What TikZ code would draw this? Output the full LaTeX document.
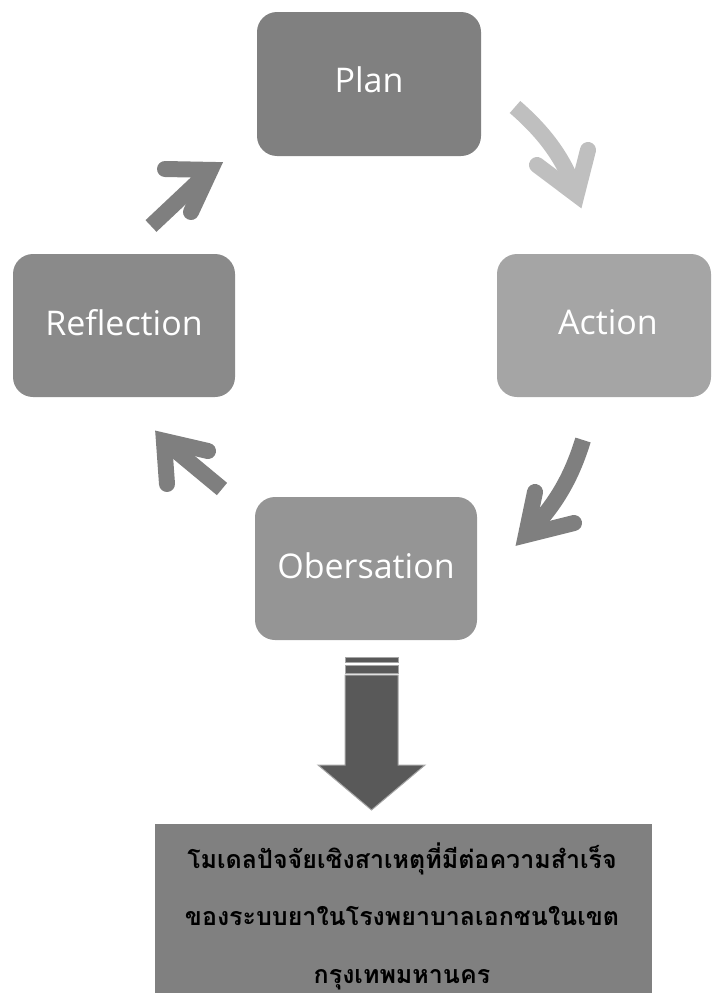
\documentclass[tikz,border=0pt]{standalone}
\usepackage{fontspec}
\setmainfont{Open Sans}
\newfontfamily\thaifont[Script=Thai]{Loma}
\definecolor{planfill}{HTML}{808080}
\definecolor{actfill}{HTML}{A5A5A5}
\definecolor{obsfill}{HTML}{959595}
\definecolor{refill}{HTML}{8A8A8A}
\definecolor{cycdark}{HTML}{7F7F7F}
\definecolor{cyclight}{HTML}{BFBFBF}
\definecolor{downfill}{HTML}{595959}
\definecolor{downedge}{HTML}{A6A6A6}
\definecolor{resultfill}{HTML}{808080}
\begin{document}
\begin{tikzpicture}[x=1pt,y=-1pt,
  stage/.style={rounded corners=20pt, inner sep=0pt},
  stagelabel/.style={text=white, font=\fontsize{34}{40}\selectfont},
  shaft/.style={line width=16pt, draw=#1, line cap=butt},
  barbs/.style={line width=16pt, draw=#1, line cap=round, line join=miter, miter limit=10},
  bigarrow/.style={fill=downfill, draw=downedge, line width=1pt}
]
\useasboundingbox (0,0) rectangle (712,993);

% the four stages of the cycle
\node[stage, fill=planfill, minimum width=224pt, minimum height=144pt] (plan) at (369,84) {};
\node[stage, fill=actfill, minimum width=214pt, minimum height=143pt] (action) at (604,325.5) {};
\node[stage, fill=obsfill, minimum width=222pt, minimum height=143pt] (obs) at (366,568.5) {};
\node[stage, fill=refill, minimum width=222pt, minimum height=143pt] (refl) at (124,325.5) {};
\node[stagelabel] at ([yshift=4pt]plan.center) {Plan};
\node[stagelabel] at ([shift={(4pt,3pt)}]action.center) {Action};
\node[stagelabel] at ([yshift=3pt]obs.center) {Obersation};
\node[stagelabel] at ([yshift=3pt]refl.center) {Reflection};

% cycle arrows: shaft plus a two-barbed head meeting at the apex
\coordinate (a1) at (210.6,169.9);
\draw[shaft=cycdark] (151,226) -- (a1);
\draw[barbs=cycdark] (165,169) -- (a1) -- (191,212);

\coordinate (a2) at (576.6,194.8);
\draw[shaft=cyclight] (515,107) .. controls (545,133) and (565,160) .. (a2);
\draw[barbs=cyclight] (537,165) -- (a2) -- (588,150);

\coordinate (a3) at (526,535);
\draw[shaft=cycdark] (583,440) .. controls (574,469) and (560,502) .. (a3);
\draw[barbs=cycdark] (535,492) -- (a3) -- (574,523);

\coordinate (a4) at (163.9,440.8);
\draw[shaft=cycdark] (222,489) -- (a4);
\draw[barbs=cycdark] (208,451) -- (a4) -- (167,484);

% outcome box
\node[fill=resultfill, minimum width=497pt, minimum height=170pt, inner sep=0pt] (result) at (403.5,909) {};
\node[align=center, text=black, inner sep=0pt, font=\thaifont\bfseries\fontsize{25}{57.5}\selectfont] (resulttext) at (402,916)
  {โมเดลปัจจัยเชิงสาเหตุที่มีต่อความสำเร็จ\\ของระบบยาในโรงพยาบาลเอกชนในเขต\\กรุงเทพมหานคร};

% downward block arrow from the cycle to the outcome
\draw[bigarrow] (345,657) rectangle (398,662);
\draw[bigarrow] (345,665) rectangle (398,673);
\draw[bigarrow] (345,675) -- (398,675) -- (398,765) -- (425,765) -- (371.5,810)
  -- (318,765) -- (345,765) -- cycle;
\end{tikzpicture}
\end{document}
